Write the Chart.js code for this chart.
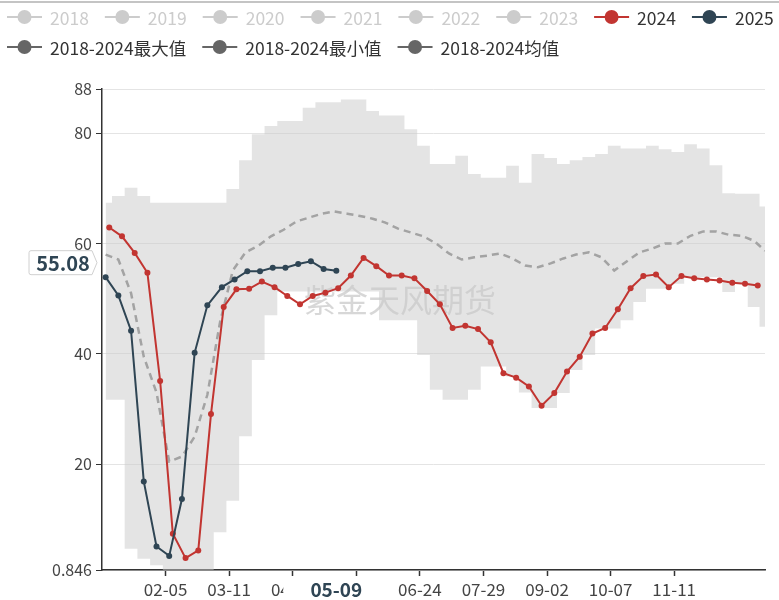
<!DOCTYPE html>
<html>
<head>
<meta charset="utf-8">
<script src="https://cdn.jsdelivr.net/npm/chart.js@4.4.1/dist/chart.umd.min.js"></script>
<style>
  html, body { margin: 0; padding: 0; background: #fff; }
  #wrap { width: 779px; height: 600px; }
</style>
</head>
<body>
<div id="wrap"><canvas id="chart" width="779" height="600"></canvas></div>
<script>
// ---- data (MM-DD on a leap-year calendar) ----
const yearNames = ["2018", "2019", "2020", "2021", "2022", "2023", "2024", "2025"];
const statNames = ["2018-2024最大值", "2018-2024最小值", "2018-2024均值"];

const tickLabels = ["02-05", "03-11", "04-15", "05-20", "06-24", "07-29", "09-02", "10-07", "11-11"];
const yTicks = [0.846, 20, 40, 60, 80, 88];

const dates2025 = ["01-03", "01-10", "01-17", "01-24", "01-31", "02-07", "02-14", "02-21", "02-28", "03-07",
    "03-14", "03-21", "03-28", "04-04", "04-11", "04-18", "04-25", "05-02", "05-09"];
const values2025 = [53.9, 50.6, 44.2, 16.9, 5.1, 3.4, 13.7, 40.2, 48.8, 52.1,
    53.5, 55.0, 55.0, 55.6, 55.6, 56.3, 56.8, 55.4, 55.08];

const dates2024 = ["01-05", "01-12", "01-19", "01-26", "02-02", "02-09", "02-16", "02-23", "03-01", "03-08",
    "03-15", "03-22", "03-29", "04-05", "04-12", "04-19", "04-26", "05-03", "05-10", "05-17",
    "05-24", "05-31", "06-07", "06-14", "06-21", "06-28", "07-05", "07-12", "07-19", "07-26",
    "08-02", "08-09", "08-16", "08-23", "08-30", "09-06", "09-13", "09-20", "09-27", "10-04",
    "10-11", "10-18", "10-25", "11-01", "11-08", "11-15", "11-22", "11-29", "12-06", "12-13",
    "12-20", "12-27"];
const values2024 = [62.9, 61.3, 58.3, 54.7, 35.1, 7.4, 3.0, 4.4, 29.1, 48.5,
    51.7, 51.8, 53.1, 52.1, 50.5, 49.0, 50.5, 51.1, 51.9, 54.2,
    57.4, 55.9, 54.2, 54.2, 53.7, 51.4, 49.0, 44.7, 45.1, 44.5,
    42.1, 36.5, 35.7, 34.1, 30.6, 32.9, 36.8, 39.5, 43.7, 44.7,
    48.1, 51.9, 54.1, 54.4, 52.1, 54.1, 53.7, 53.5, 53.3, 52.9,
    52.7, 52.4];

// weekly grid for the 2018-2024 statistics
const statDates = ["01-03", "01-10", "01-17", "01-24", "01-31", "02-07", "02-14", "02-21", "02-28", "03-06",
    "03-13", "03-20", "03-27", "04-03", "04-10", "04-17", "04-24", "05-01", "05-08", "05-15",
    "05-22", "05-29", "06-05", "06-12", "06-19", "06-26", "07-03", "07-10", "07-17", "07-24",
    "07-31", "08-07", "08-14", "08-21", "08-28", "09-04", "09-11", "09-18", "09-25", "10-02",
    "10-09", "10-16", "10-23", "10-30", "11-06", "11-13", "11-20", "11-27", "12-04", "12-11",
    "12-18", "12-25", "12-31"];
const maxValues = [67.4, 68.6, 70.1, 68.6, 67.4, 67.4, 67.4, 67.4, 67.4, 67.4,
    69.9, 75.1, 79.8, 81.3, 82.2, 82.2, 84.6, 85.6, 85.6, 86.1,
    86.1, 84.0, 83.2, 83.2, 80.7, 77.7, 74.4, 74.4, 75.9, 72.6,
    71.9, 71.9, 74.1, 71.0, 76.2, 75.5, 74.4, 75.1, 75.7, 76.2,
    77.7, 77.2, 77.2, 77.7, 77.1, 76.6, 78.0, 77.2, 74.2, 69.1,
    69.0, 69.0, 66.7];
const minValues = [31.7, 31.7, 4.7, 2.9, 1.7, 0.846, 0.846, 0.846, 0.846, 7.7,
    13.4, 25.1, 38.9, 47.0, 51.3, 51.3, 51.3, 51.3, 51.3, 51.3,
    51.3, 51.3, 46.1, 46.1, 46.1, 39.8, 33.5, 31.7, 31.7, 33.5,
    37.7, 37.7, 35.9, 33.0, 30.2, 30.2, 32.9, 37.1, 39.8, 44.6,
    44.6, 46.1, 49.4, 51.8, 51.8, 52.7, 53.9, 53.9, 53.9, 51.2,
    52.7, 48.5, 44.9];
const avgValues = [58.0, 57.1, 51.0, 39.5, 33.0, 20.5, 21.4, 25.0, 32.6, 45.8,
    55.1, 58.4, 59.6, 61.3, 62.5, 64.0, 64.7, 65.4, 65.8, 65.4,
    65.0, 64.5, 63.8, 62.7, 62.0, 61.3, 60.0, 58.2, 57.1, 57.5,
    57.8, 58.2, 57.3, 56.0, 55.7, 56.4, 57.3, 58.0, 58.4, 57.5,
    55.1, 56.8, 58.4, 59.1, 60.0, 60.0, 61.4, 62.2, 62.2, 61.6,
    61.4, 60.5, 58.7];

const pointerDate = "05-09";
const pointerValue = 55.08;

// ---- helpers ----
const monthStart = [0, 31, 60, 91, 121, 152, 182, 213, 244, 274, 305, 335];
function mmddToDay(s) {
    const [m, d] = s.split("-").map(Number);
    return monthStart[m - 1] + d - 1;
}
const toPoints = (dates, vals) => dates.map((d, i) => ({ x: mmddToDay(d), y: vals[i] }));

const FONT = '"Noto Sans CJK SC", "Noto Sans", sans-serif';
const RED = "#c23531";
const NAVY = "#2f4554";
const STAT = "#666666";
const OFF = "#cccccc";

// ---- overlay: legend, watermark, axis pointer labels ----
const decorPlugin = {
    id: "decor",
    beforeDatasetsDraw(chart) {
        const ctx = chart.ctx;
        ctx.save();
        ctx.font = "32px " + FONT;
        ctx.fillStyle = "rgba(140,140,140,0.35)";
        ctx.textAlign = "center";
        ctx.textBaseline = "middle";
        ctx.fillText("紫金天风期货", 400, 300);
        ctx.restore();
    },
    afterDraw(chart) {
        const ctx = chart.ctx;
        ctx.save();

        // thin frame line at the very top
        ctx.strokeStyle = "#c4c4c4";
        ctx.lineWidth = 2;
        ctx.beginPath();
        ctx.moveTo(0, 2);
        ctx.lineTo(779, 2);
        ctx.stroke();

        // legend
        const rows = [
            yearNames.map(n => ({ text: n, color: n === "2024" ? RED : n === "2025" ? NAVY : OFF, on: n >= "2024" })),
            statNames.map(n => ({ text: n, color: STAT, on: true }))
        ];
        ctx.font = "17.5px " + FONT;
        ctx.textBaseline = "middle";
        ctx.textAlign = "left";
        rows.forEach((row, r) => {
            let x = 7;
            const y = 17 + r * 30;
            row.forEach(item => {
                ctx.strokeStyle = item.color;
                ctx.lineWidth = 2;
                ctx.beginPath();
                ctx.moveTo(x, y);
                ctx.lineTo(x + 35, y);
                ctx.stroke();
                ctx.fillStyle = item.color;
                ctx.beginPath();
                ctx.arc(x + 17.5, y, 7, 0, Math.PI * 2);
                ctx.fill();
                ctx.fillStyle = item.on ? "#333" : OFF;
                ctx.fillText(item.text, x + 43, y + 1);
                x += 43 + ctx.measureText(item.text).width + 16;
            });
        });

        // x axis pointer label
        const px = chart.scales.x.getPixelForValue(mmddToDay(pointerDate));
        ctx.fillStyle = "#fff";
        ctx.fillRect(px - 53, 578, 106, 22);
        ctx.font = "bold 19px " + FONT;
        ctx.fillStyle = NAVY;
        ctx.textAlign = "center";
        ctx.fillText(pointerDate, px, 590);

        // y axis pointer label
        const py = chart.scales.y.getPixelForValue(pointerValue) - 8;
        ctx.beginPath();
        ctx.moveTo(31, py - 12);
        ctx.lineTo(92, py - 12);
        ctx.lineTo(97, py);
        ctx.lineTo(92, py + 12);
        ctx.lineTo(31, py + 12);
        ctx.quadraticCurveTo(29, py + 12, 29, py + 10);
        ctx.lineTo(29, py - 10);
        ctx.quadraticCurveTo(29, py - 12, 31, py - 12);
        ctx.closePath();
        ctx.fillStyle = "#fff";
        ctx.fill();
        ctx.strokeStyle = "#d0d0d0";
        ctx.lineWidth = 1;
        ctx.stroke();
        ctx.fillStyle = NAVY;
        ctx.font = "bold 20px " + FONT;
        ctx.fillText(String(pointerValue), 63, py + 1);

        ctx.restore();
    }
};

new Chart(document.getElementById("chart"), {
    type: "line",
    data: {
        datasets: [
            {
                label: "2025",
                data: toPoints(dates2025, values2025),
                borderColor: NAVY,
                backgroundColor: NAVY,
                borderWidth: 2,
                pointRadius: 3,
                pointBorderWidth: 0,
                tension: 0
            },
            {
                label: "2024",
                data: toPoints(dates2024, values2024),
                borderColor: RED,
                backgroundColor: RED,
                borderWidth: 2,
                pointRadius: 3,
                pointBorderWidth: 0,
                tension: 0
            },
            {
                label: statNames[2],
                data: toPoints(statDates, avgValues),
                borderColor: "#a3a3a3",
                borderDash: [7, 5],
                borderWidth: 2.5,
                pointRadius: 0,
                tension: 0
            },
            {
                label: statNames[0],
                data: toPoints(statDates, maxValues),
                borderColor: "rgba(0,0,0,0)",
                borderWidth: 0,
                pointRadius: 0,
                stepped: "middle",
                fill: "+1",
                backgroundColor: "rgba(202,202,202,0.5)"
            },
            {
                label: statNames[1],
                data: toPoints(statDates, minValues),
                borderColor: "rgba(0,0,0,0)",
                borderWidth: 0,
                pointRadius: 0,
                stepped: "middle",
                fill: false
            }
        ]
    },
    options: {
        responsive: false,
        animation: false,
        devicePixelRatio: 1,
        layout: { padding: { left: 0, right: 14, top: 89, bottom: 0 } },
        plugins: {
            legend: { display: false },
            tooltip: { enabled: false }
        },
        scales: {
            x: {
                type: "linear",
                min: 0,
                max: 365,
                afterFit: s => { s.height = 30; },
                afterBuildTicks: axis => {
                    axis.ticks = tickLabels.map(l => ({ value: mmddToDay(l) }));
                },
                ticks: {
                    autoSkip: false,
                    maxRotation: 0,
                    padding: 3,
                    color: "#444",
                    font: { family: FONT, size: 17 },
                    callback: (v, i) => tickLabels[i]
                },
                grid: { drawOnChartArea: false, tickLength: 6, tickColor: "#333", tickWidth: 1.5 },
                border: { color: "#333", width: 1.5 }
            },
            y: {
                min: 0.846,
                max: 88,
                afterFit: s => { s.width = 102; },
                afterBuildTicks: axis => {
                    axis.ticks = yTicks.map(v => ({ value: v }));
                },
                ticks: {
                    padding: 4,
                    color: "#444",
                    font: { family: FONT, size: 16 },
                    callback: v => String(v)
                },
                grid: { color: "#e4e4e4", lineWidth: 1, tickLength: 6, tickColor: "#333" },
                border: { color: "#333", width: 1.5 }
            }
        }
    },
    plugins: [decorPlugin]
});
</script>
</body>
</html>
